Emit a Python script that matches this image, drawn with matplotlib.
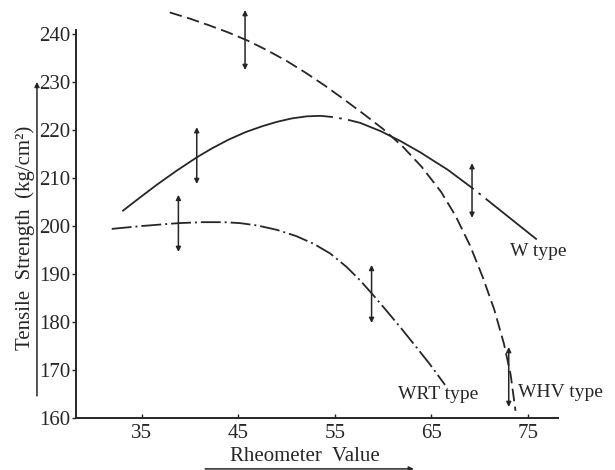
import matplotlib
matplotlib.use("Agg")
import matplotlib.pyplot as plt

plt.rcParams['font.family'] = ['Liberation Serif', 'DejaVu Serif']

ink = '#262626'

# WHV type (dashed)
whv_x = [37.9, 40.0, 42.0, 44.0, 46.0, 48.0, 50.0, 52.0, 54.0, 56.0, 58.0, 60.0,
         62.0, 64.0, 66.0, 67.5, 69.0, 70.3, 71.5, 72.5, 73.2, 73.7]
whv_y = [244.5, 243.2, 241.8, 240.3, 238.6, 236.6, 234.4, 231.9, 229.2, 226.3, 223.3, 220.2,
         216.6, 212.3, 207.1, 202.1, 195.9, 189.4, 182.6, 175.5, 169.0, 161.5]

# W type
w_x = [33.0, 34.8, 36.5, 38.6, 40.7, 42.3, 44.0, 45.8, 47.5, 49.0, 50.5, 52.1,
       53.5, 54.8, 56.2, 57.6, 59.7, 61.7, 63.8, 66.7, 69.3, 72.6, 75.9]
w_y = [203.1, 205.9, 208.5, 211.5, 214.3, 216.2, 218.0, 219.6, 220.8, 221.7, 222.4, 222.85,
       222.95, 222.7, 222.2, 221.5, 219.8, 217.8, 215.4, 211.7, 207.8, 202.5, 197.2]

# WRT type (dash-dot)
wrt_x = [31.9, 35.0, 38.8, 41.3, 43.5, 45.2, 47.0, 49.0, 51.0, 52.8, 54.5, 56.2,
         57.6, 58.8, 60.2, 61.7, 63.1, 64.8, 66.4]
wrt_y = [199.4, 200.0, 200.6, 200.8, 200.8, 200.6, 200.1, 199.2, 197.9, 196.3, 194.3, 191.5,
         188.7, 186.0, 182.7, 179.1, 175.6, 171.3, 166.9]

# scatter ranges: x, low, high
bar_x = [45.7, 40.7, 38.8, 58.8, 69.2, 73.0]
bar_lo = [232.5, 208.75, 194.6, 179.8, 201.7, 162.3]
bar_hi = [245.0, 220.6, 206.5, 191.9, 213.1, 174.8]

labels = ['W type', 'WRT type', 'WHV type']
label_x = [73.1, 61.5, 74.0]
label_y = [194.6, 164.8, 165.4]

fig = plt.figure(figsize=(6.15, 4.70), dpi=100)
ax = fig.add_axes([0.1236, 0.1106, 0.7837, 0.8732])

lw = 1.3
ax.plot(whv_x, whv_y, color=ink, lw=lw, linestyle=(0, (7, 3)))
k = w_x.index(54.8)
ax.plot(w_x[:k + 1], w_y[:k + 1], color=ink, lw=lw, solid_capstyle='butt')
ax.plot(w_x[k:], w_y[k:], color=ink, lw=lw, linestyle=(80, (80, 3.5, 1.5, 3.5)))
ax.plot(wrt_x, wrt_y, color=ink, lw=lw, linestyle=(0, (11, 2.2, 1.1, 2.2)))

for x, lo, hi in zip(bar_x, bar_lo, bar_hi):
    ax.annotate('', xy=(x, hi), xytext=(x, lo),
                arrowprops=dict(arrowstyle='<|-|>', color=ink, lw=1.1,
                                mutation_scale=7, shrinkA=0, shrinkB=0))

for t, x, y in zip(labels, label_x, label_y):
    ax.text(x, y, t, fontsize=14, color=ink, ha='left', va='center')

ax.set_xlim(28.2, 78.1)
ax.set_ylim(160, 245.5)
ax.set_xticks([35, 45, 55, 65, 75])
ax.set_yticks(range(160, 241, 10))
for s in ['top', 'right']:
    ax.spines[s].set_visible(False)
ax.spines['left'].set_bounds(160, 240.8)
for s in ['left', 'bottom']:
    ax.spines[s].set_linewidth(1.4)
    ax.spines[s].set_color(ink)
ax.tick_params(axis='x', direction='in', length=3, width=1, pad=4,
               labelsize=15, colors=ink)
ax.tick_params(axis='y', direction='out', length=3, width=1, pad=1,
               labelsize=15, colors=ink)

# axis titles with their arrows
ax.text(0.475, -0.094, 'Rheometer  Value', transform=ax.transAxes,
        fontsize=15, color=ink, ha='center', va='center')
ax.annotate('', xy=(0.701, -0.124), xytext=(0.268, -0.124),
            xycoords='axes fraction', textcoords='axes fraction',
            arrowprops=dict(arrowstyle='-|>', color=ink, lw=1.1,
                            mutation_scale=7, shrinkA=0, shrinkB=0))
ax.text(-0.106, 0.439, 'Tensile  Strength  (kg/cm²)', transform=ax.transAxes,
        fontsize=15, color=ink, rotation=90, ha='center', va='center')
ax.annotate('', xy=(-0.081, 0.819), xytext=(-0.081, 0.054),
            xycoords='axes fraction', textcoords='axes fraction',
            arrowprops=dict(arrowstyle='-|>', color=ink, lw=1.1,
                            mutation_scale=7, shrinkA=0, shrinkB=0))

fig.savefig('out.png', dpi=100)
